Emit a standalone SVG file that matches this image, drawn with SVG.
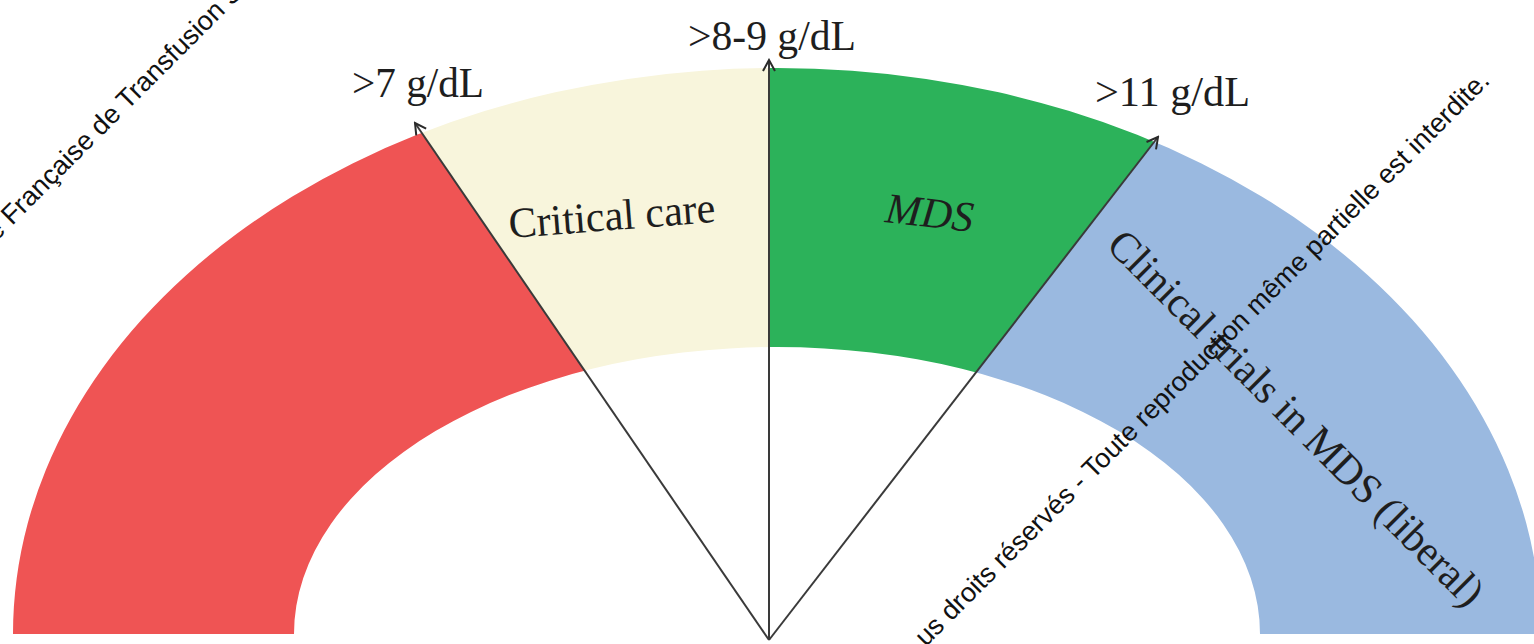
<svg xmlns="http://www.w3.org/2000/svg" width="1534" height="644" viewBox="0 0 1534 644">
  <style>
    .val { font-family: "Liberation Serif", "Times New Roman", serif; font-size: 42px; fill: #1e1e1e; }
    .lbl { font-family: "Liberation Serif", "Times New Roman", serif; font-size: 43px; fill: #1e1e1e; }
    .wm { font-family: "Liberation Sans", Arial, sans-serif; font-size: 27px; fill: #111111; }
    .ptr { fill: none; stroke: #3a3a3a; stroke-width: 2; marker-end: url(#open); }
  </style>
  <defs>
    <marker id="open" viewBox="0 0 14 14" refX="12" refY="7" markerWidth="14" markerHeight="14" markerUnits="userSpaceOnUse" orient="auto">
      <path d="M1,1 L12,7 L1,13" fill="none" stroke="#2a2a2a" stroke-width="2"/>
    </marker>
    <path id="ring" d="M 13,634 A 764,566 0 0 1 1541,634 L 1260,634 A 483,287 0 0 0 294,634 Z"/>
    <clipPath id="cRed"><polygon points="769,640 296.5,-50 -50,-50 -50,700 769,700"/></clipPath>
    <clipPath id="cCream"><polygon points="769,640 296.5,-50 769,-50"/></clipPath>
    <clipPath id="cGreen"><polygon points="769,640 769,-50 1302.6,-50"/></clipPath>
    <clipPath id="cBlue"><polygon points="769,640 1302.6,-50 1600,-50 1600,700 769,700"/></clipPath>
  </defs>

  <rect x="0" y="0" width="1534" height="644" fill="#ffffff"/>

  <g id="band-red">
    <use href="#ring" fill="#EF5454" clip-path="url(#cRed)"/>
  </g>
  <g id="band-critical-care">
    <use href="#ring" fill="#F8F5DC" clip-path="url(#cCream)"/>
    <text class="lbl" x="0" y="0" text-anchor="middle" textLength="207" lengthAdjust="spacingAndGlyphs" transform="translate(613,230) rotate(-4.5)">Critical care</text>
  </g>
  <g id="band-mds">
    <use href="#ring" fill="#2CB25A" clip-path="url(#cGreen)"/>
    <text class="lbl" x="0" y="0" text-anchor="middle" font-style="italic" fill="#14301c" textLength="88" lengthAdjust="spacingAndGlyphs" transform="translate(928,227) rotate(6.5)">MDS</text>
  </g>
  <g id="band-clinical-trials">
    <use href="#ring" fill="#9AB9E0" clip-path="url(#cBlue)"/>
    <text class="lbl" x="0" y="0" textLength="512" lengthAdjust="spacingAndGlyphs" transform="translate(1105,247) rotate(45)">Clinical trials in MDS (liberal)</text>
  </g>

  <g id="connectors">
    <line class="ptr" x1="769" y1="640" x2="415" y2="123"/>
    <line class="ptr" x1="769" y1="640" x2="769" y2="60"/>
    <line class="ptr" x1="769" y1="640" x2="1158" y2="137"/>
  </g>

  <g id="threshold-7">
    <text class="val" x="352" y="97" textLength="132" lengthAdjust="spacingAndGlyphs">&gt;7 g/dL</text>
  </g>
  <g id="threshold-8-9">
    <text class="val" x="688" y="50" textLength="168" lengthAdjust="spacingAndGlyphs">&gt;8-9 g/dL</text>
  </g>
  <g id="threshold-11">
    <text class="val" x="1095" y="106" textLength="155" lengthAdjust="spacingAndGlyphs">&gt;11 g/dL</text>
  </g>

  <g id="watermark">
    <text class="wm" x="0" y="0" transform="translate(-4,242) rotate(-45)">e Française de Transfusion S</text>
    <text class="wm" x="0" y="0" text-anchor="end" transform="translate(1491,82) rotate(-45)">us droits réservés - Toute reproduction même partielle est interdite.</text>
  </g>
</svg>
